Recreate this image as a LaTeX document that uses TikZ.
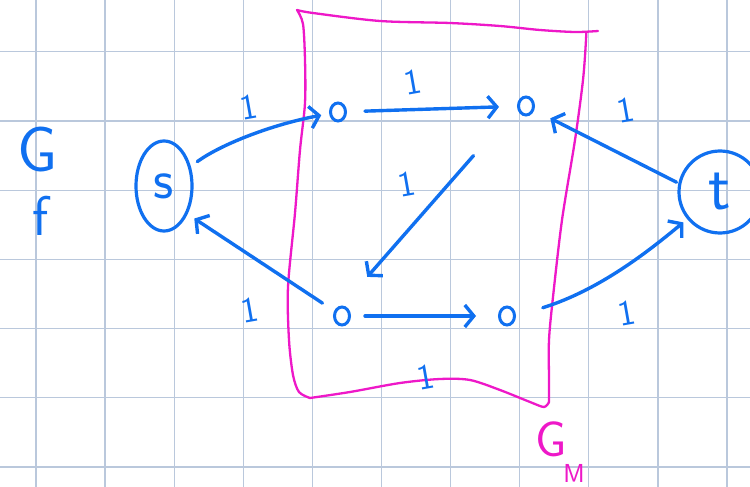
\documentclass[tikz,border=0pt]{standalone}
\usetikzlibrary{arrows.meta,shapes.geometric}
\definecolor{ink}{RGB}{16,112,240}
\definecolor{mag}{RGB}{238,24,200}
\definecolor{gridc}{RGB}{186,200,220}
\begin{document}
\begin{tikzpicture}[x=1pt,y=-1pt,
  edge/.style={draw=ink,line width=3.4pt,line cap=round,line join=round,
    -{Straight Barb[length=9pt,width=22pt]}},
  vtx/.style={ellipse,draw=ink,line width=3pt,minimum width=15pt,minimum height=18pt,inner sep=0pt},
  one/.style={text=ink,font=\sffamily\fontsize{36}{36}\selectfont,rotate=10,inner sep=0pt},
  bigtxt/.style={text=ink,font=\sffamily\fontsize{#1}{#1}\selectfont,inner sep=0pt},
  box/.style={draw=mag,line width=2.3pt,line cap=round,line join=round}]
\useasboundingbox (0,0) rectangle (750,487);
\clip (0,0) rectangle (750,487);
\fill[white] (0,0) rectangle (750,487);
% grid
\foreach \i in {0,...,10} \draw[gridc,line width=1.3pt] ({36+69.1*\i},0) -- ({36+69.1*\i},487);
\foreach \j in {0,...,6} \draw[gridc,line width=1.3pt] (0,{51.8+69.2*\j}) -- (750,{51.8+69.2*\j});
% magenta box G_M
\draw[box] plot[smooth] coordinates {(297,10) (313,13) (380,21) (450,23) (500,26) (540,30) (575,32) (598,31)};
\draw[box] plot[smooth] coordinates {(297,10) (303,24) (305,60) (305,103) (300,150) (295,213) (288,287) (289,340) (293,375) (299,392) (310,398)};
\draw[box] plot[smooth] coordinates {(310,398) (350,392) (400,383) (440,379) (470,380) (500,390) (530,402) (544,407) (549,402)};
\draw[box] plot[smooth] coordinates {(549,402) (549,380) (549,340) (553,297) (562,220) (575,140) (583,80) (586,40) (586,32)};
\node[text=mag,font=\sffamily\fontsize{50}{50}\selectfont,inner sep=0pt] (gm) at (551,439) {G};
\node[text=mag,font=\sffamily\fontsize{26}{26}\selectfont,inner sep=0pt] (gmsub) at (574,473) {M};
% G_f
\node[bigtxt=64] (gf) at (38,150) {G};
\node[bigtxt=56] (gfsub) at (41,216) {f};
% nodes
\node[ellipse,draw=ink,line width=3.2pt,minimum width=56pt,minimum height=90pt,inner sep=0pt,
  text=ink,font=\sffamily\fontsize{56}{56}\selectfont] (s) at (164,186) {s};
\node[circle,draw=ink,line width=3.2pt,minimum size=82pt,inner sep=0pt,
  text=ink,font=\sffamily\fontsize{66}{66}\selectfont] (t) at (720,192) {t};
\node[vtx] (a) at (338,112) {};
\node[vtx] (b) at (526,106) {};
\node[vtx] (c) at (342,316) {};
\node[vtx] (d) at (507,316) {};
% edges
\draw[edge,shorten <=8pt,shorten >=8pt] (s) .. controls (220,145) and (270,125) .. (a);
\draw[edge,shorten <=18pt,shorten >=18pt] (a) -- (b);
\draw[edge,shorten <=2pt,shorten >=18pt] (t.168) -- (b);
\draw[edge,shorten <=66pt,shorten >=52pt] (b.west) -- (c.180);
\draw[edge,shorten <=14pt,shorten >=8pt] (c) -- (s.-50);
\draw[edge,shorten <=14pt,shorten >=22pt] (c) -- (d);
\draw[edge,shorten <=28pt,shorten >=5pt] (d.east) .. controls (600,290) and (650,250) .. (t);
% weights
\node[one] (w1) at (249,107) {1};
\node[one] (w2) at (413,82) {1};
\node[one] (w3) at (626,110) {1};
\node[one] (w4) at (407,184) {1};
\node[one] (w5) at (250,310) {1};
\node[one] (w6) at (426,377) {1};
\node[one] (w7) at (627,313) {1};
\end{tikzpicture}
\end{document}
